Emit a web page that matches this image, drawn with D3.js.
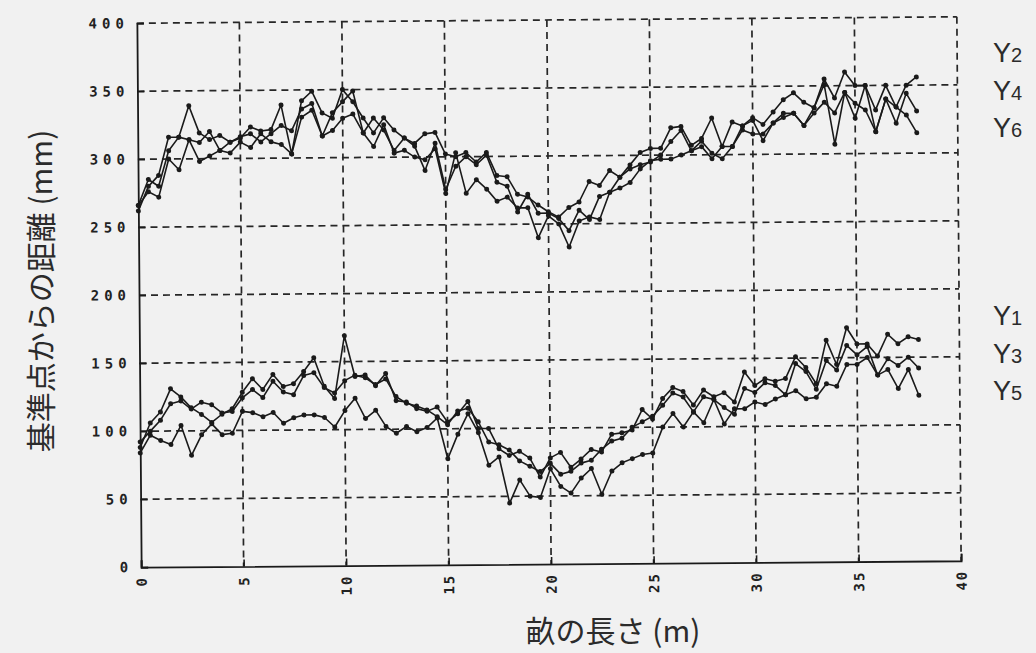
<!DOCTYPE html>
<html>
<head>
<meta charset="utf-8">
<script src="https://cdn.jsdelivr.net/npm/d3@7"></script>
<style>
  html, body { margin: 0; padding: 0; background: #f1f1f1; }
  svg { display: block; }
  .tick-label { font-family: "DejaVu Sans Mono", monospace; font-weight: bold; fill: #222; }
</style>
</head>
<body>
<div id="chart"></div>
<script>
// distance along the ridge (m), one reading every 0.5 m
const distance = [
  0, 0.5, 1, 1.5, 2, 2.5, 3, 3.5, 4, 4.5,
  5, 5.5, 6, 6.5, 7, 7.5, 8, 8.5, 9, 9.5,
  10, 10.5, 11, 11.5, 12, 12.5, 13, 13.5, 14, 14.5,
  15, 15.5, 16, 16.5, 17, 17.5, 18, 18.5, 19, 19.5,
  20, 20.5, 21, 21.5, 22, 22.5, 23, 23.5, 24, 24.5,
  25, 25.5, 26, 26.5, 27, 27.5, 28, 28.5, 29, 29.5,
  30, 30.5, 31, 31.5, 32, 32.5, 33, 33.5, 34, 34.5,
  35, 35.5, 36, 36.5, 37, 37.5, 38
];

// lower group
const y1 = [
  88, 106, 114, 131, 125, 117, 112, 106, 112, 116,
  128, 138, 130, 141, 132, 134, 143, 153, 132, 123,
  169, 139, 140, 132, 141, 121, 120, 115, 113, 116,
  105, 111, 120, 100, 100, 85, 80, 83, 78, 64,
  78, 82, 71, 77, 84, 82, 95, 96, 98, 113,
  106, 121, 129, 126, 116, 127, 122, 125, 118, 140,
  130, 135, 133, 135, 151, 143, 131, 163, 145, 172,
  160, 160, 151, 167, 160, 165, 163
];
const y3 = [
  92, 100, 108, 120, 122, 116, 121, 119, 113, 114,
  124, 130, 124, 136, 128, 126, 140, 142, 131, 127,
  136, 140, 138, 133, 137, 124, 119, 117, 114, 109,
  103, 113, 115, 105, 90, 88, 84, 76, 72, 68,
  74, 66, 68, 74, 76, 84, 90, 92, 100, 104,
  108, 116, 125, 122, 111, 122, 120, 114, 109, 128,
  125, 132, 130, 123, 146, 140, 127, 148, 141, 159,
  152, 158, 137, 149, 144, 150, 142
];
const y5 = [
  84, 97, 93, 90, 104, 82, 97, 105, 97, 98,
  114, 113, 110, 113, 105, 109, 111, 111, 109, 102,
  114, 123, 108, 114, 102, 97, 102, 98, 101, 108,
  78, 96, 111, 97, 73, 79, 45, 62, 50, 49,
  70, 57, 52, 63, 70, 51, 68, 74, 77, 80,
  81, 100, 110, 100, 111, 103, 120, 102, 113, 113,
  118, 116, 120, 123, 126, 120, 121, 131, 129, 145,
  145, 150, 137, 141, 127, 141, 122
];

// upper group
const y2 = [
  262, 280, 288, 316, 316, 339, 319, 314, 317, 312,
  315, 323, 320, 321, 339, 303, 342, 349, 333, 329,
  350, 341, 329, 318, 329, 320, 314, 310, 317, 318,
  302, 300, 303, 296, 303, 286, 285, 272, 270, 264,
  259, 255, 262, 266, 281, 278, 289, 284, 293, 302,
  305, 305, 320, 321, 307, 312, 327, 306, 324, 321,
  327, 322, 331, 340, 345, 338, 334, 355, 341, 360,
  350, 350, 332, 350, 334, 350, 356
];
const y4 = [
  266, 285, 280, 306, 316, 314, 312, 320, 306, 312,
  316, 318, 312, 318, 324, 320, 336, 340, 316, 333,
  341, 349, 318, 329, 320, 305, 314, 308, 290, 310,
  276, 293, 300, 294, 301, 281, 278, 259, 272, 258,
  258, 254, 245, 260, 253, 270, 273, 284, 290, 293,
  295, 300, 310, 318, 303, 310, 301, 297, 306, 321,
  325, 310, 323, 330, 330, 321, 334, 351, 307, 345,
  326, 350, 316, 340, 322, 344, 331
];
const y6 = [
  266, 276, 272, 300, 292, 314, 298, 302, 306, 304,
  312, 308, 318, 312, 310, 303, 330, 335, 316, 320,
  329, 332, 318, 308, 324, 303, 305, 300, 298, 306,
  273, 303, 273, 283, 276, 267, 270, 262, 262, 240,
  256, 250, 233, 252, 255, 253, 273, 276, 280, 290,
  296, 297, 297, 300, 303, 306, 297, 306, 306, 318,
  315, 315, 323, 327, 330, 321, 330, 338, 330, 345,
  337, 332, 316, 340, 334, 328, 315
];

const xTicks = [0, 5, 10, 15, 20, 25, 30, 35, 40];
const yTicks = [0, 50, 100, 150, 200, 250, 300, 350, 400];

const seriesList = [
  { name: 'Y2', values: y2 },
  { name: 'Y4', values: y4 },
  { name: 'Y6', values: y6 },
  { name: 'Y1', values: y1 },
  { name: 'Y3', values: y3 },
  { name: 'Y5', values: y5 }
];
const upperLabels = ['Y2', 'Y4', 'Y6'];
const lowerLabels = ['Y1', 'Y3', 'Y5'];

const totalWidth = 1036;
const totalHeight = 653;
const margin = { top: 20, right: 77, bottom: 89, left: 139 };
const width = totalWidth - margin.left - margin.right;
const height = totalHeight - margin.top - margin.bottom;

const ink = '#1a1a1a';
const gridInk = '#262626';

const svg = d3.select('#chart').append('svg')
  .attr('width', totalWidth)
  .attr('height', totalHeight);

// the scanned page is tilted a little
const page = svg.append('g')
  .attr('transform', 'rotate(-0.45, 549, 292)');

const g = page.append('g')
  .attr('transform', `translate(${margin.left},${margin.top})`);

const x = d3.scaleLinear().domain([0, 40]).range([0, width]);
const y = d3.scaleLinear().domain([0, 400]).range([height, 0]);

// dashed grid (includes the top and right frame)
g.append('g')
  .selectAll('line')
  .data(xTicks.filter(d => d > 0))
  .enter().append('line')
  .attr('x1', d => x(d)).attr('x2', d => x(d))
  .attr('y1', 0).attr('y2', height)
  .style('stroke', gridInk)
  .style('stroke-width', 1.7)
  .style('stroke-dasharray', '7,5');

g.append('g')
  .selectAll('line')
  .data(yTicks.filter(d => d > 0))
  .enter().append('line')
  .attr('x1', 0).attr('x2', width)
  .attr('y1', d => y(d)).attr('y2', d => y(d))
  .style('stroke', gridInk)
  .style('stroke-width', 1.7)
  .style('stroke-dasharray', '7,5');

// axes
const xAxis = g.append('g')
  .attr('transform', `translate(0,${height})`)
  .call(d3.axisBottom(x).tickValues(xTicks).tickSize(-7).tickPadding(9))
  .attr('font-size', 14)
  .attr('font-family', null);

xAxis.select('.domain').style('stroke', ink).style('stroke-width', 1.8);
xAxis.selectAll('line').style('stroke', ink).style('stroke-width', 1.6);
xAxis.selectAll('text')
  .attr('class', 'tick-label')
  .attr('transform', 'rotate(-90)')
  .attr('x', -9)
  .attr('y', 0)
  .attr('dy', '0.35em')
  .attr('text-anchor', 'end')
  .attr('letter-spacing', 2);

const yAxis = g.append('g')
  .call(d3.axisLeft(y).tickValues(yTicks).tickSize(-7).tickPadding(10))
  .attr('font-size', 14)
  .attr('font-family', null);

yAxis.select('.domain').style('stroke', ink).style('stroke-width', 1.8);
yAxis.selectAll('line').style('stroke', ink).style('stroke-width', 1.6);
yAxis.selectAll('text')
  .attr('class', 'tick-label')
  .attr('x', -8)
  .attr('letter-spacing', 5);

// series
const line = d3.line()
  .x((d, i) => x(distance[i]))
  .y(d => y(d));

seriesList.forEach(s => {
  g.append('path')
    .datum(s.values)
    .attr('d', line)
    .style('fill', 'none')
    .style('stroke', ink)
    .style('stroke-width', 1.6)
    .style('stroke-linejoin', 'round');

  g.append('g')
    .selectAll('circle')
    .data(s.values)
    .enter().append('circle')
    .attr('cx', (d, i) => x(distance[i]))
    .attr('cy', d => y(d))
    .attr('r', 2.5)
    .style('fill', ink);
});

// series labels at the right
function drawLabels(names, top) {
  names.forEach((name, i) => {
    const t = svg.append('text')
      .attr('x', 993)
      .attr('y', top + i * 37.5)
      .style('font-family', '"Liberation Sans", Arial, sans-serif')
      .style('fill', '#2b2b2b');
    t.append('tspan').style('font-size', '27px').text(name[0]);
    t.append('tspan').style('font-size', '20px').text(name.slice(1));
  });
}
drawLabels(upperLabels, 62);
drawLabels(lowerLabels, 325);

// axis titles
svg.append('text')
  .attr('transform', 'translate(52,291) rotate(-90)')
  .style('text-anchor', 'middle')
  .style('font-family', '"Noto Sans CJK JP", sans-serif')
  .style('font-size', '30px')
  .style('fill', '#2b2b2b')
  .text('基準点からの距離 (mm)');

svg.append('text')
  .attr('x', 613)
  .attr('y', 642)
  .style('text-anchor', 'middle')
  .style('font-family', '"Noto Sans CJK JP", sans-serif')
  .style('font-size', '30px')
  .style('fill', '#2b2b2b')
  .text('畝の長さ (m)');
</script>
</body>
</html>
